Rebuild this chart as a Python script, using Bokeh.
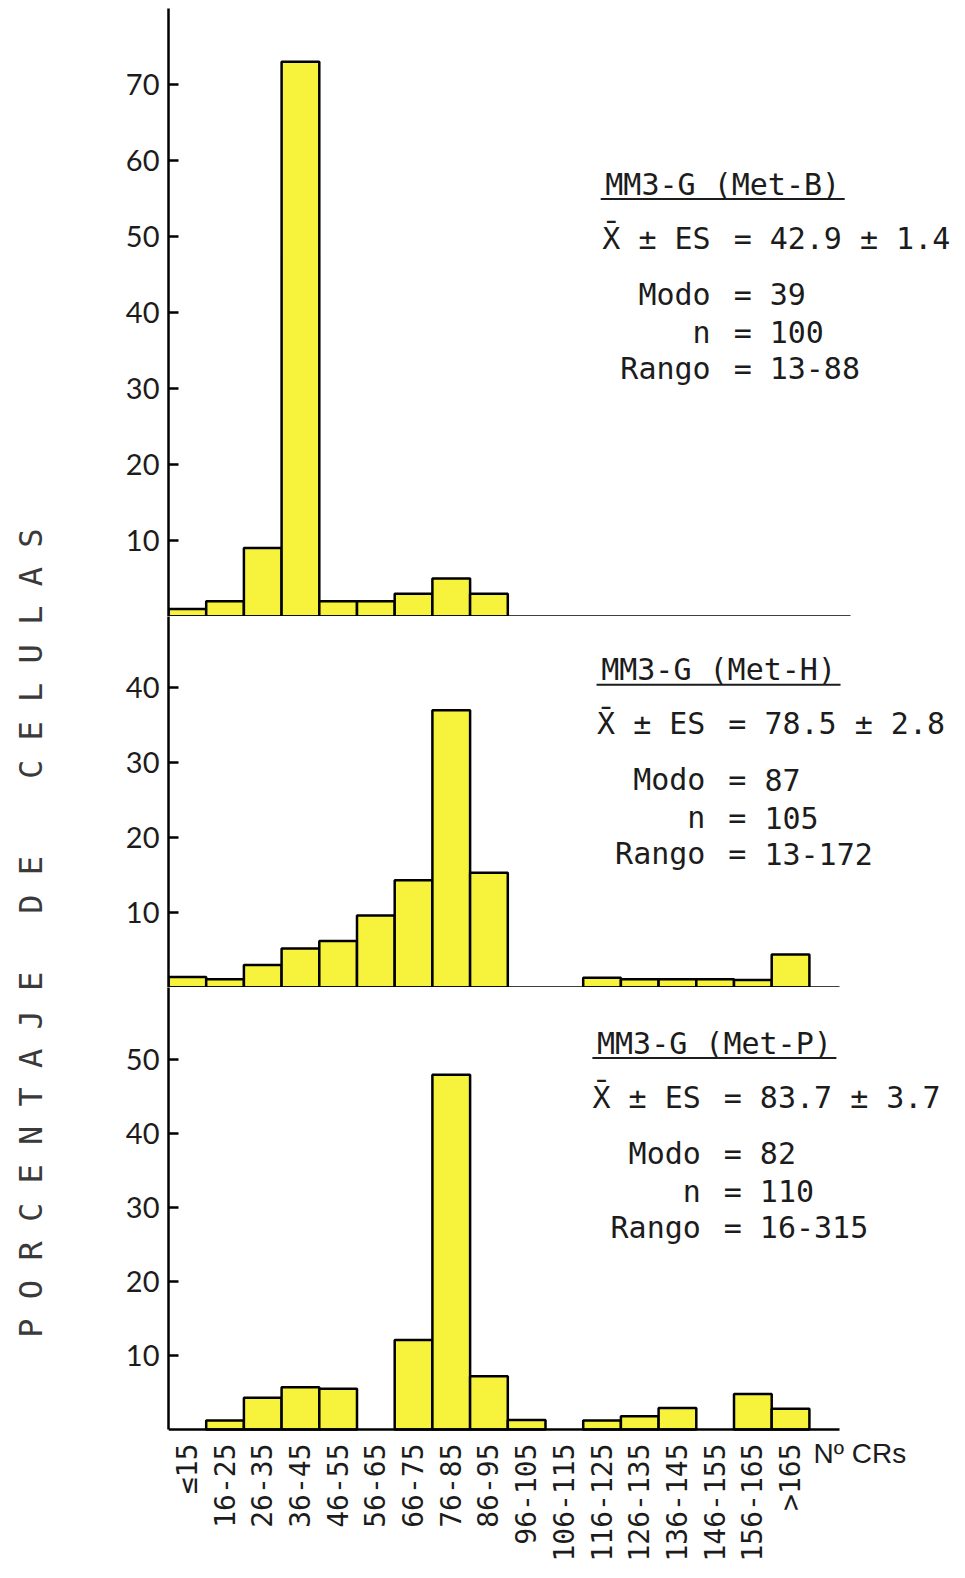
import math

from bokeh.core.properties import value
from bokeh.embed import file_html
from bokeh.layouts import column, row
from bokeh.models import ColumnDataSource, FixedTicker, Label, Range1d
from bokeh.plotting import figure
from bokeh.resources import INLINE

# ---- data -------------------------------------------------------------
categories = ["≤15", "16-25", "26-35", "36-45", "46-55", "56-65", "66-75",
              "76-85", "86-95", "96-105", "106-115", "116-125", "126-135",
              "136-145", "146-155", "156-165", ">165"]

pct_met_b = [1, 2, 9, 73, 2, 2, 3, 5, 3, 0, 0, 0, 0, 0, 0, 0, 0]
pct_met_h = [1.4, 1.1, 3.0, 5.2, 6.2, 9.6, 14.3, 37.0, 15.3, 0, 0,
             1.3, 1.1, 1.1, 1.1, 1.0, 4.4]
pct_met_p = [0, 1.2, 4.3, 5.7, 5.5, 0, 12.1, 47.9, 7.2, 1.3, 0,
             1.2, 1.8, 2.9, 0, 4.8, 2.8]

titles = ["MM3-G (Met-B)", "MM3-G (Met-H)", "MM3-G (Met-P)"]
means = ["42.9", "78.5", "83.7"]
std_errs = ["1.4", "2.8", "3.7"]
modes = ["39", "87", "82"]
n_cells = ["100", "105", "110"]
spans = ["13-88", "13-172", "16-315"]

y_ticks_b = [10, 20, 30, 40, 50, 60, 70]
y_ticks_h = [10, 20, 30, 40]
y_ticks_p = [10, 20, 30, 40, 50]

NB = "\u00a0"
y_title = ("P O R C E N T A J E" + NB * 3 + "D E" + NB * 4 + "C E L U L A S")
x_title = "Nº CRs"

# ---- styling ----------------------------------------------------------
BAR_FILL = "#F7F23C"
INK = "#1c1c1c"
MONO = "DejaVu Sans Mono"
STAT_SIZE = "30px"
BIN_PX = 37.7          # pixel width of one class interval
LEFT_PAD = 108         # border left of each panel frame
PANEL_W = 905
X_END = (PANEL_W - LEFT_PAD) / BIN_PX

panels = [
    dict(vals=pct_met_b, ticks=y_ticks_b, ymax=80.0, frame_h=608, top=8, below=0,
         axis_end=18.1, eq_x=15.23, title_x=14.7, title_y=56.9),
    dict(vals=pct_met_h, ticks=y_ticks_h, ymax=49.5, frame_h=371, top=0, below=0,
         axis_end=17.8, eq_x=15.09, title_x=14.59, title_y=42.4),
    dict(vals=pct_met_p, ticks=y_ticks_p, ymax=59.7, frame_h=442, top=0, below=149,
         axis_end=17.8, eq_x=14.97, title_x=14.48, title_y=52.2),
]

# vertical pixel offsets of the stat lines below each heading
LINE_DY = [54, 110, 148, 184]
GAP_LEFT = 32
GAP_RIGHT = 27


def stat_label(p, x, y, text, align, dx, dy):
    p.add_layout(Label(x=x, y=y, x_offset=dx, y_offset=-dy, text=text,
                       text_align=align, text_baseline="middle",
                       text_font=MONO, text_font_size=STAT_SIZE, text_color=INK))


figs = []
for i, cfg in enumerate(panels):
    last = i == len(panels) - 1
    ppu = cfg["frame_h"] / cfg["ymax"]
    # the lowest panel keeps its class labels inside the frame, below zero
    y_start = -cfg["below"] / ppu
    p = figure(width=PANEL_W, height=cfg["top"] + cfg["frame_h"] + cfg["below"],
               x_range=Range1d(0, X_END), y_range=Range1d(y_start, cfg["ymax"]),
               min_border_left=LEFT_PAD, min_border_right=0,
               min_border_top=cfg["top"], min_border_bottom=0,
               toolbar_location=None, output_backend="svg")
    p.background_fill_color = "white"
    p.border_fill_color = "white"
    p.outline_line_color = None
    p.grid.visible = False

    idx = [k for k, v in enumerate(cfg["vals"]) if v > 0]
    src = ColumnDataSource(dict(x=[k + 0.5 for k in idx],
                                top=[cfg["vals"][k] for k in idx]))
    p.vbar(x="x", top="top", width=1.0, bottom=0, source=src,
           fill_color=BAR_FILL, line_color="black", line_width=2.5)

    # y axis: ticks pointing inward, no label at zero
    ya = p.yaxis[0]
    ya.ticker = FixedTicker(ticks=cfg["ticks"])
    ya.bounds = (0, cfg["ymax"])
    ya.axis_line_width = 2.5
    ya.axis_line_color = "black"
    ya.major_tick_in = 10
    ya.major_tick_out = 0
    ya.major_tick_line_width = 2.5
    ya.minor_tick_line_color = None
    ya.major_label_standoff = 9
    ya.major_label_text_font = "Lato"
    ya.major_label_text_font_size = "29px"
    ya.major_label_text_color = INK

    xa = p.xaxis[0]
    xa.bounds = (0, cfg["axis_end"])
    xa.axis_line_width = 2.5
    xa.axis_line_color = "black"
    xa.major_tick_in = 0
    xa.major_tick_out = 0
    xa.minor_tick_line_color = None
    if last:
        xa.fixed_location = 0
        centers = [k + 0.5 for k in range(len(categories))]
        xa.ticker = FixedTicker(ticks=centers)
        xa.major_label_overrides = {c: lab for c, lab in zip(centers, categories)}
        xa.major_label_orientation = math.pi / 2
        xa.major_label_standoff = 14
        xa.major_label_text_font = MONO
        xa.major_label_text_font_size = "28px"
        xa.major_label_text_color = INK
        p.text(x=[17.11], y=[-24 / ppu], text=[x_title], text_align="left",
               text_baseline="middle", text_font=value("Liberation Sans"),
               text_font_size="28px", text_color=INK)
    else:
        xa.ticker = FixedTicker(ticks=[])
        xa.major_label_standoff = 0
        xa.major_label_text_font_size = "0px"

    # statistics block
    tx, ty, ex = cfg["title_x"], cfg["title_y"], cfg["eq_x"]
    p.add_layout(Label(x=tx, y=ty, text=titles[i], text_align="center",
                       text_baseline="middle", text_font=MONO,
                       text_font_size=STAT_SIZE, text_color=INK))
    half = 122 / BIN_PX
    p.segment(x0=[tx - half], x1=[tx + half], y0=[ty - 15 / ppu], y1=[ty - 15 / ppu],
              line_color=INK, line_width=2)

    rows = [("X\u0304 ± ES", f"{means[i]} ± {std_errs[i]}"),
            ("Modo", modes[i]),
            ("n", n_cells[i]),
            ("Rango", spans[i])]
    for (left, right), dy in zip(rows, LINE_DY):
        stat_label(p, ex, ty, left, "right", -GAP_LEFT, dy)
        stat_label(p, ex, ty, "=", "center", 0, dy)
        stat_label(p, ex, ty, right, "left", GAP_RIGHT, dy)

    figs.append(p)

# narrow strip carrying the shared vertical axis title
side = figure(width=60, height=sum(f.height for f in figs),
              x_range=Range1d(0, 1), y_range=Range1d(0, 1),
              min_border=0, toolbar_location=None, output_backend="svg")
side.axis.visible = False
side.grid.visible = False
side.outline_line_color = None
side.background_fill_color = "white"
side.border_fill_color = "white"
side.text(x=[0.5], y=[0.409], text=[y_title], angle=math.pi / 2,
          text_align="center", text_baseline="middle",
          text_font=value(MONO), text_font_size="32px", text_color="#3a3a3a")

layout = row(side, column(*figs, spacing=0), spacing=0)

with open("out.html", "w") as fh:
    fh.write(file_html(layout, INLINE))
